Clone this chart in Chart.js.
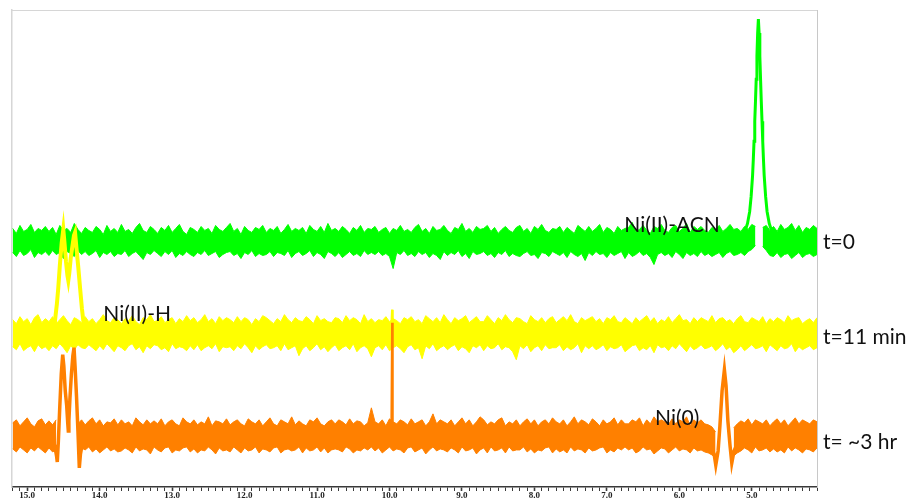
<!DOCTYPE html>
<html lang="en">
<head>
<meta charset="UTF-8">
<title>Ni stack spectra</title>
<style>
  body { margin: 0; background: #ffffff; }
  #wrap { width: 911px; height: 500px; }
</style>
</head>
<body>
<div id="wrap"><canvas id="spec" width="911" height="500"></canvas></div>
<script src="https://cdn.jsdelivr.net/npm/chart.js@4.4.1/dist/chart.umd.min.js"></script>
<script>
// chemical shift axis (ppm), reversed like an NMR plot
const ppmMin = 4.1
const ppmMax = 15.21
const tickStep = 0.1

// baseline noise envelopes, one value every 0.05 ppm from 15.20 down to 4.10
const gridStart = 15.2
const gridStep = 0.05

// t=0 trace (green)
const greenHi = [
  13, 8, 16, 10, 12, 17, 9, 13, 11, 15,
  10, 14, 7, 16, 11, 13, 9, 18, 12, 8,
  14, 11, 9, 15, 12, 7, 16, 10, 13, 9,
  17, 10, 12, 8, 14, 18, 11, 9, 15, 12,
  8, 14, 11, 16, 9, 13, 17, 10, 7, 14,
  12, 9, 15, 11, 13, 8, 16, 12, 10, 14,
  18, 10, 13, 7, 15, 11, 9, 14, 12, 16,
  9, 13, 11, 15, 8, 12, 17, 10, 13, 11,
  14, 8, 16, 12, 10, 15, 9, 18, 11, 13,
  10, 15, 12, 8, 14, 11, 16, 9, 13, 12,
  15, 9, 12, 14, 8, 13, 11, 16, 10, 12,
  9, 14, 17, 10, 13, 8, 15, 11, 12, 16,
  11, 8, 14, 12, 18, 10, 13, 9, 15, 12,
  13, 16, 10, 14, 8, 12, 15, 11, 9, 14,
  16, 10, 13, 8, 15, 12, 17, 11, 9, 13,
  12, 15, 9, 14, 11, 8, 16, 13, 10, 15,
  10, 13, 17, 9, 14, 12, 8, 15, 11, 13,
  14, 19, 10, 12, 16, 11, 8, 15, 13, 17,
  11, 9, 14, 16, 10, 13, 18, 9, 15, 12,
  15, 11, 9, 14, 12, 16, 10, 13, 17, 12,
  13, 10, 15, 12, 17, 15, null, 14, 16, 11,
  15, 10, 17, 12, 14, 18, 11, 16, 9, 14,
  12, 16, 13
]
const greenLo = [
  -11, -15, -9, -14, -12, -8, -16, -11, -13, -10,
  -14, -9, -13, -11, -17, -10, -12, -15, -9, -13,
  -10, -14, -12, -9, -16, -11, -13, -10, -15, -12,
  -13, -9, -15, -12, -10, -14, -18, -11, -13, -9,
  -12, -15, -10, -13, -9, -16, -12, -14, -10, -13,
  -15, -11, -13, -9, -14, -12, -10, -16, -13, -11,
  -10, -14, -12, -17, -11, -13, -9, -15, -12, -14,
  -13, -10, -15, -11, -12, -14, -9, -16, -12, -10,
  -14, -12, -9, -15, -11, -13, -17, -10, -12, -15,
  -11, -16, -13, -10, -14, -12, -15, -9, -13, -11,
  -13, -10, -14, -12, -15, -27, -11, -13, -9, -14,
  -12, -15, -10, -13, -11, -16, -12, -14, -18, -10,
  -14, -11, -13, -9, -15, -12, -17, -10, -13, -12,
  -10, -14, -12, -16, -11, -13, -9, -15, -12, -14,
  -15, -12, -10, -14, -13, -17, -11, -12, -15, -10,
  -12, -14, -11, -16, -10, -13, -15, -12, -19, -11,
  -14, -10, -13, -12, -16, -11, -14, -12, -10, -17,
  -11, -15, -13, -10, -14, -12, -16, -23, -13, -11,
  -14, -12, -16, -10, -13, -17, -11, -14, -12, -15,
  -10, -14, -12, -15, -13, -11, -16, -12, -10, -14,
  -13, -11, -14, -10, -8, -4, null, -5, -9, -14,
  -15, -11, -16, -13, -12, -17, -14, -11, -16, -13,
  -12, -15, -13
]
const greenPeakPpm = [5.229, 5.159, 5.099, 5.059, 5.029, 5.009, 4.989, 4.979, 4.969, 4.959, 4.949, 4.939, 4.929, 4.919,
  4.909, 4.899, 4.889, 4.879, 4.869, 4.859, 4.849, 4.839, 4.829, 4.809, 4.789, 4.759, 4.719, 4.659, 4.589]
const greenPeakInt = [0, 3, 9, 18, 30, 45, 66, 82, 100, 120, 140, 162, 185, 208,
  222, 208, 185, 162, 140, 120, 100, 82, 66, 45, 30, 18, 9, 3, 0]

// t=11 min trace (yellow)
const yellowHi = [
  14, 10, 17, 12, 15, 9, 16, 19, 11, 15,
  12, 17, 10, 14, 18, 13, 9, 16, 14, 11,
  17, 12, 15, 10, 14, 19, 13, 11, 16, 14,
  10, 15, 13, 18, 12, 9, 16, 14, 19, 12,
  13, 17, 11, 14, 16, 10, 15, 12, 18, 13,
  16, 11, 14, 19, 12, 15, 10, 17, 13, 16,
  14, 11, 17, 12, 16, 14, 9, 15, 12, 18,
  16, 13, 10, 15, 12, 19, 14, 11, 16, 13,
  12, 17, 14, 10, 18, 13, 15, 12, 11, 16,
  15, 11, 18, 13, 16, 14, 10, 19, 12, 15,
  11, 14, 13, 17, 12, 15, 13, 10, 16, 14,
  17, 12, 14, 10, 18, 15, 12, 16, 11, 19,
  14, 10, 16, 13, 15, 18, 11, 14, 17, 12,
  12, 18, 14, 10, 16, 13, 19, 14, 11, 16,
  15, 12, 10, 18, 14, 12, 16, 11, 15, 17,
  11, 14, 17, 13, 19, 12, 10, 16, 13, 15,
  17, 12, 15, 10, 16, 14, 18, 12, 11, 16,
  13, 10, 16, 12, 15, 18, 12, 16, 10, 14,
  12, 17, 11, 15, 19, 13, 14, 10, 16, 12,
  16, 14, 12, 18, 11, 15, 16, 12, 14, 10,
  15, 18, 12, 11, 16, 14, 12, 17, 10, 15,
  12, 16, 14, 11, 18, 13, 15, 16, 10, 13,
  15, 11, 16
]
const yellowLo = [
  -13, -16, -10, -17, -14, -12, -18, -11, -15, -13,
  -17, -12, -15, -10, -14, -19, -12, -16, -11, -14,
  -15, -11, -14, -17, -12, -16, -10, -14, -18, -12,
  -14, -17, -12, -10, -16, -13, -19, -12, -15, -11,
  -12, -16, -14, -18, -10, -15, -13, -14, -17, -12,
  -16, -11, -17, -14, -12, -15, -10, -18, -13, -14,
  -13, -17, -12, -15, -10, -14, -19, -12, -16, -13,
  -11, -15, -14, -12, -17, -10, -16, -14, -12, -22,
  -15, -12, -17, -14, -10, -16, -13, -18, -14, -11,
  -17, -14, -12, -16, -10, -18, -14, -12, -15, -23,
  -14, -12, -16, -11, -17, -14, -12, -15, -19, -13,
  -11, -16, -14, -25, -12, -15, -10, -17, -14, -12,
  -16, -13, -11, -17, -13, -15, -19, -12, -14, -11,
  -17, -12, -15, -14, -10, -16, -13, -14, -18, -26,
  -12, -15, -11, -18, -14, -12, -17, -11, -15, -14,
  -14, -11, -17, -13, -16, -14, -10, -19, -12, -15,
  -12, -16, -14, -11, -17, -13, -15, -14, -11, -18,
  -15, -12, -11, -17, -14, -16, -12, -19, -11, -14,
  -13, -17, -12, -15, -10, -14, -18, -12, -16, -14,
  -11, -15, -14, -12, -17, -14, -10, -16, -13, -19,
  -16, -12, -17, -14, -11, -15, -14, -12, -18, -11,
  -14, -17, -12, -15, -14, -10, -18, -13, -16, -14,
  -12, -16, -14
]
const yellowDoubletPpm = [14.70, 14.66, 14.63, 14.617, 14.59, 14.571, 14.55, 14.525, 14.502, 14.485, 14.465, 14.445, 14.433,
  14.42, 14.40, 14.375, 14.355, 14.34, 14.32, 14.295, 14.271, 14.245, 14.226, 14.20, 14.16, 14.12]
const yellowDoubletInt = [0, 5, 10, 13, 30, 46, 68, 90, 104, 90, 72, 58, 53,
  60, 75, 88, 98, 101, 85, 66, 46, 25, 13, 8, 3, 0]
const yellowSpikePpm = [9.975, 9.965, 9.955]
const yellowSpikeInt = [8, 24, 8]

// t= ~3 hr trace (orange)
const orangeHi = [
  13, 16, 10, 14, 18, 12, 9, 15, 17, 11,
  15, 11, 16, null, null, null, null, null, 12, 16,
  11, 15, 18, 12, 16, 10, 14, 13, 17, 11,
  16, 12, 14, 10, 18, 14, 11, 16, 12, 15,
  12, 17, 10, 14, 16, 12, 10, 18, 14, 12,
  16, 11, 14, 12, 19, 10, 15, 14, 12, 17,
  11, 14, 16, 12, 10, 17, 14, 12, 16, 10,
  14, 18, 12, 10, 16, 14, 12, 19, 11, 15,
  12, 10, 16, 14, 18, 12, 10, 14, 16, 12,
  16, 14, 11, 17, 12, 15, 14, 10, 13, 28,
  14, 12, 16, 10, 17, 14, 12, 16, 14, 11,
  17, 12, 14, 16, 10, 14, 22, 12, 16, 14,
  12, 16, 10, 14, 18, 12, 16, 10, 14, 19,
  16, 11, 14, 12, 16, 18, 10, 14, 12, 16,
  10, 14, 17, 12, 16, 10, 14, 16, 12, 18,
  14, 12, 16, 10, 14, 19, 12, 16, 14, 11,
  17, 14, 10, 16, 12, 14, 18, 11, 16, 12,
  12, 16, 14, 18, 10, 16, 12, 19, 14, 16,
  14, 11, 17, 12, 16, 14, 19, 10, 16, 13,
  16, 12, 11, 9, 4, null, null, null, null, 8,
  12, 15, 13, 17, 11, 16, 14, 12, 16, 10,
  14, 17, 12, 16, 10, 14, 18, 12, 16, 14,
  12, 16, 14
]
const orangeLo = [
  -13, -16, -11, -14, -17, -12, -15, -11, -14, -17,
  -12, -16, -14, null, null, null, null, null, -16, -12,
  -14, -11, -16, -13, -17, -14, -11, -15, -13, -16,
  -15, -12, -14, -17, -11, -15, -13, -14, -18, -11,
  -14, -16, -12, -11, -17, -14, -15, -12, -11, -16,
  -13, -17, -14, -15, -11, -14, -18, -12, -15, -14,
  -16, -11, -14, -17, -12, -15, -14, -11, -17, -13,
  -14, -16, -12, -11, -17, -14, -13, -15, -14, -11,
  -17, -12, -15, -14, -11, -16, -12, -17, -14, -13,
  -14, -16, -11, -13, -17, -14, -15, -12, -14, -11,
  -15, -12, -17, -14, -11, -15, -13, -14, -17, -12,
  -11, -16, -14, -12, -18, -14, -11, -15, -13, -14,
  -16, -12, -14, -17, -11, -15, -14, -12, -18, -14,
  -12, -17, -11, -15, -14, -12, -17, -11, -15, -14,
  -14, -11, -16, -13, -17, -14, -15, -12, -11, -17,
  -13, -16, -14, -17, -11, -15, -13, -14, -17, -12,
  -15, -14, -12, -11, -17, -14, -16, -12, -14, -11,
  -14, -12, -17, -15, -11, -14, -13, -18, -15, -12,
  -13, -17, -14, -11, -15, -13, -14, -17, -12, -15,
  -14, -16, -17, -19, -22, null, null, null, null, -20,
  -17, -15, -12, -14, -17, -11, -15, -14, -12, -16,
  -13, -16, -14, -17, -11, -15, -12, -14, -17, -13,
  -14, -16, -12
]
const orangeDoubletPpm = [14.66, 14.62, 14.595, 14.585, 14.57, 14.55, 14.53, 14.51, 14.495, 14.475, 14.455, 14.44, 14.433,
  14.425, 14.41, 14.39, 14.37, 14.354, 14.34, 14.32, 14.30, 14.281, 14.265, 14.24, 14.20]
const orangeDoubletInt = [0, -10, -20, -26, -5, 30, 62, 81, 70, 45, 30, 12, 5,
  15, 38, 62, 80, 88, 70, 40, 5, -32, -18, -8, 0]
const orangeSpikePpm = [9.975, 9.965, 9.955]
const orangeSpikeInt = [5, 113, 5]
const orangeNi0Ppm = [5.70, 5.59, 5.52, 5.497, 5.465, 5.44, 5.41, 5.378, 5.355, 5.33, 5.30, 5.276, 5.245, 5.19, 5.09]
const orangeNi0Int = [0, -8, -18, -29, -15, 10, 45, 66, 50, 15, -10, -27, -15, -6, 0]

// vertical stacking of the three traces
const greenOffset = 245
const yellowOffset = 153
const orangeOffset = 51

const GREEN = '#00ff00'
const YELLOW = '#ffff00'
const ORANGE = '#ff8000'

const band = (vals, offset) => vals.map((v, i) => ({
  x: +(gridStart - i * gridStep).toFixed(2),
  y: v === null ? null : v + offset
}))
const trace = (ppm, vals, offset) => ppm.map((p, i) => ({ x: p, y: vals[i] + offset }))

const lowLine = (data, color) => ({ data, borderColor: color, borderWidth: 1, fill: false })
const highLine = (data, color) => ({ data, borderColor: color, backgroundColor: color, borderWidth: 1, fill: '-1' })
const peakLine = (data, color, w) => ({ data, borderColor: color, borderWidth: w, fill: false })

// first dataset is painted last, so orange sits on top
const datasets = [
  lowLine(band(orangeLo, orangeOffset), ORANGE),
  highLine(band(orangeHi, orangeOffset), ORANGE),
  peakLine(trace(orangeDoubletPpm, orangeDoubletInt, orangeOffset), ORANGE, 3.5),
  peakLine(trace(orangeSpikePpm, orangeSpikeInt, orangeOffset), ORANGE, 2),
  peakLine(trace(orangeNi0Ppm, orangeNi0Int, orangeOffset), ORANGE, 3.5),
  lowLine(band(yellowLo, yellowOffset), YELLOW),
  highLine(band(yellowHi, yellowOffset), YELLOW),
  peakLine(trace(yellowDoubletPpm, yellowDoubletInt, yellowOffset), YELLOW, 4),
  peakLine(trace(yellowSpikePpm, yellowSpikeInt, yellowOffset), YELLOW, 2),
  lowLine(band(greenLo, greenOffset), GREEN),
  highLine(band(greenHi, greenOffset), GREEN),
  peakLine(trace(greenPeakPpm, greenPeakInt, greenOffset), GREEN, 3)
]

// annotations inside the plot (ppm of left edge, baseline level)
const peakLabels = [
  { text: 'Ni(II)-ACN', ppm: 6.76, level: 254 },
  { text: 'Ni(II)-H', ppm: 13.95, level: 166 },
  { text: 'Ni(0)', ppm: 6.335, level: 62 }
]
// trace names to the right of the plot
const traceLabels = [
  { text: 't=0', level: 238 },
  { text: 't=11 min', level: 143 },
  { text: 't= ~3 hr', level: 38 }
]

const labelPlugin = {
  id: 'labels',
  afterDraw(chart) {
    const { ctx, scales: { x, y }, chartArea } = chart
    ctx.save()
    ctx.font = '21px Lato, "Open Sans", sans-serif'
    ctx.fillStyle = '#111111'
    ctx.textBaseline = 'alphabetic'
    ctx.textAlign = 'left'
    peakLabels.forEach(l => ctx.fillText(l.text, x.getPixelForValue(l.ppm), y.getPixelForValue(l.level)))
    traceLabels.forEach(l => ctx.fillText(l.text, chartArea.right + 6, y.getPixelForValue(l.level)))
    ctx.restore()
  }
}

const isWhole = v => Math.abs(v - Math.round(v)) < 0.001

new Chart(document.getElementById('spec'), {
  type: 'line',
  data: { datasets },
  plugins: [labelPlugin],
  options: {
    responsive: false,
    animation: false,
    devicePixelRatio: 1,
    layout: { padding: { left: 12, top: 10, right: 94, bottom: 0 } },
    elements: { point: { radius: 0 }, line: { tension: 0 } },
    plugins: { legend: { display: false }, tooltip: { enabled: false } },
    scales: {
      x: {
        type: 'linear',
        position: 'bottom',
        reverse: true,
        min: ppmMin,
        max: ppmMax,
        border: { color: '#3a3a3a', width: 1.5 },
        grid: {
          drawOnChartArea: false,
          drawTicks: true,
          tickLength: 4,
          tickColor: '#3a3a3a',
          tickWidth: c => (c.tick && isWhole(c.tick.value) ? 1.6 : 1)
        },
        ticks: {
          stepSize: tickStep,
          autoSkip: false,
          maxRotation: 0,
          padding: 0,
          color: '#222222',
          font: { family: '"Liberation Serif", serif', size: 9, weight: 'bold', lineHeight: 1 },
          callback: v => (isWhole(v) ? Math.round(v).toFixed(1) : '')
        }
      },
      xTop: {
        type: 'linear',
        position: 'top',
        min: ppmMin,
        max: ppmMax,
        grid: { display: false, drawTicks: false },
        ticks: { display: false },
        border: { color: '#d6d6d6', width: 1 }
      },
      y: {
        type: 'linear',
        position: 'left',
        min: 0,
        max: 476,
        grid: { display: false, drawTicks: false },
        ticks: { display: false },
        border: { color: '#d6d6d6', width: 1.5 }
      },
      yRight: {
        type: 'linear',
        position: 'right',
        min: 0,
        max: 476,
        grid: { display: false, drawTicks: false },
        ticks: { display: false },
        border: { color: '#c8c8c8', width: 1 }
      }
    }
  }
})
</script>
</body>
</html>
